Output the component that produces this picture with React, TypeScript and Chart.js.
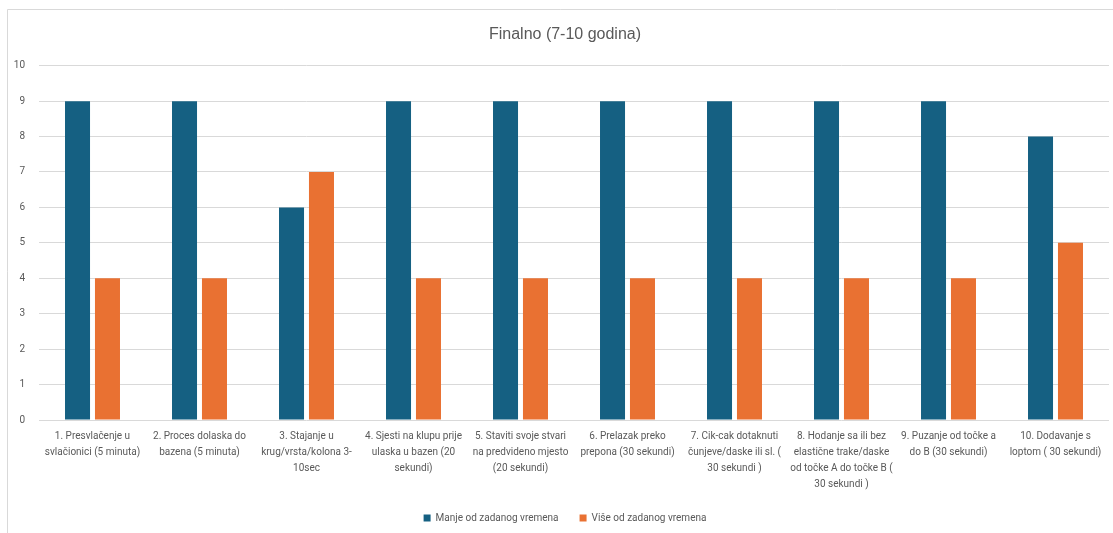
import React, { useEffect, useRef } from "react";
import { Chart, registerables } from "chart.js";

Chart.register(...registerables);

const categories: string[][] = [
  ["1. Presvlačenje u", "svlačionici (5 minuta)"],
  ["2. Proces dolaska do", "bazena (5 minuta)"],
  ["3. Stajanje u", "krug/vrsta/kolona 3-", "10sec"],
  ["4. Sjesti na klupu prije", "ulaska u bazen (20", "sekundi)"],
  ["5. Staviti svoje stvari", "na predvideno mjesto", "(20 sekundi)"],
  ["6. Prelazak preko", "prepona (30 sekundi)"],
  ["7. Cik-cak dotaknuti", "čunjeve/daske ili sl. (", "30 sekundi )"],
  ["8. Hodanje sa ili bez", "elastične trake/daske", "od točke A do točke B (", "30 sekundi )"],
  ["9. Puzanje od točke a", "do B (30 sekundi)"],
  ["10. Dodavanje s", "loptom ( 30 sekundi)"],
];

const manjeValues: number[] = [9, 9, 6, 9, 9, 9, 9, 9, 9, 8];
const viseValues: number[] = [4, 4, 7, 4, 4, 4, 4, 4, 4, 5];

const seriesNames: string[] = ["Manje od zadanog vremena", "Više od zadanog vremena"];
const chartTitle = "Finalno (7-10 godina)";
const yTicks: number[] = [0, 1, 2, 3, 4, 5, 6, 7, 8, 9, 10];

const FONT = "Roboto, sans-serif";
const TEXT = "#595959";

const framePlugin = {
  id: "frame",
  beforeDraw(chart: any) {
    const ctx = chart.ctx;
    ctx.save();
    ctx.fillStyle = "#ffffff";
    ctx.fillRect(0, 0, chart.width, chart.height);
    ctx.strokeStyle = "#d9d9d9";
    ctx.lineWidth = 1;
    ctx.beginPath();
    ctx.moveTo(7.5, chart.height);
    ctx.lineTo(7.5, 9.5);
    ctx.lineTo(chart.width, 9.5);
    ctx.stroke();
    ctx.restore();
  },
};

export default function App() {
  const ref = useRef<HTMLCanvasElement>(null);

  useEffect(() => {
    if (!ref.current) return;
    const chart = new Chart(ref.current, {
      type: "bar",
      data: {
        labels: categories,
        datasets: [
          {
            label: seriesNames[0],
            data: manjeValues,
            backgroundColor: "#156082",
            categoryPercentage: 0.56,
            barPercentage: 0.835,
          },
          {
            label: seriesNames[1],
            data: viseValues,
            backgroundColor: "#E97132",
            categoryPercentage: 0.56,
            barPercentage: 0.835,
          },
        ],
      },
      options: {
        responsive: false,
        animation: false,
        layout: { padding: { left: 21, right: 4, top: 0, bottom: 0 } },
        plugins: {
          title: {
            display: true,
            text: chartTitle,
            color: TEXT,
            font: { family: "'Liberation Sans', sans-serif", size: 16, weight: "normal" },
            padding: { top: 25.4, bottom: 21.1 },
          },
          legend: {
            position: "bottom",
            labels: {
              color: TEXT,
              font: { family: FONT, size: 10 },
              boxWidth: 7,
              boxHeight: 7,
              padding: 21,
            },
          },
          tooltip: { enabled: false },
        },
        scales: {
          x: {
            grid: { display: false },
            border: { display: false },
            ticks: {
              color: TEXT,
              font: { family: FONT, size: 10, lineHeight: 1.6 },
              padding: 0,
              maxRotation: 0,
              autoSkip: false,
            },
            afterFit: (scale: any) => {
              scale.height = 72;
            },
          },
          y: {
            min: 0,
            max: 10,
            afterBuildTicks: (scale: any) => {
              scale.ticks = yTicks.map((v) => ({ value: v }));
            },
            grid: { color: "#d9d9d9", drawTicks: false },
            border: { display: false },
            ticks: {
              color: TEXT,
              font: { family: FONT, size: 10 },
              padding: 14,
            },
            afterFit: (scale: any) => {
              scale.width = 18;
              scale._computeLabelArea = () => undefined;
            },
          },
        },
      },
      plugins: [framePlugin],
    });
    return () => chart.destroy();
  }, []);

  return (
    <div style={{ position: "absolute", left: 0, top: 0, width: 1113, height: 533 }}>
      <canvas ref={ref} width={1113} height={533} />
    </div>
  );
}
